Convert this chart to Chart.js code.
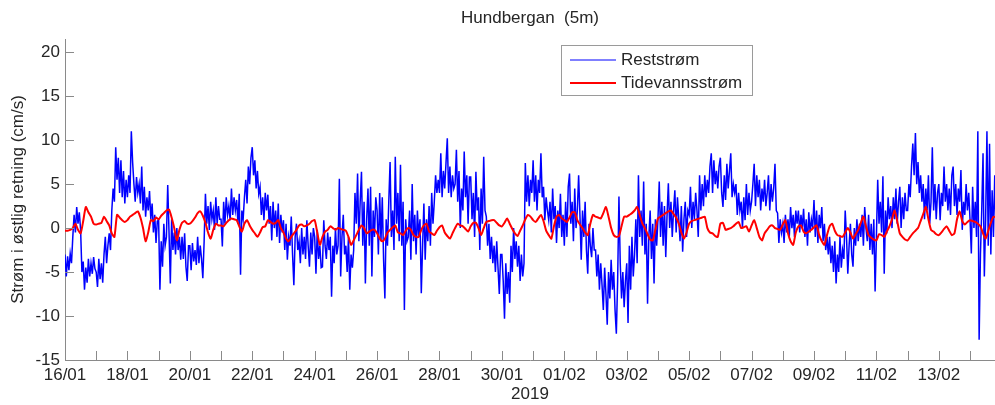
<!DOCTYPE html>
<html>
<head>
<meta charset="utf-8">
<script src="https://cdn.jsdelivr.net/npm/chart.js@4.4.1/dist/chart.umd.min.js"></script>
<style>
  html, body { margin: 0; padding: 0; background: #fff; }
  #wrap { width: 995px; height: 405px; }
</style>
</head>
<body>
<div id="wrap"><canvas id="chart" width="995" height="405"></canvas></div>
<script>
// Values. Reststrøm: hourly, one row per day from 16/01 00:00.
// Tidevannsstrøm: every 2 hours, one row per day.
const reststromStepDays = 1 / 24;
const tidevannStepDays = 1 / 12;

const reststrom = [
  -3.0, -5.5, -3.2, -4.8, -2.9, -4.0, -1.0, 1.5, -0.5, 2.4, 0.5, 1.8, -0.2, -5.0, -3.8, -7.0, -4.5, -6.2, -3.5, -5.5, -4.0, -5.2, -3.3, -4.6, // 16/01
  -5.0, -6.7, -3.5, -5.8, -4.0, -6.2, -3.0, -1.0, -4.0, -2.0, -0.6, -2.5, 2.0, 4.5, 3.0, 9.2, 5.5, 8.0, 4.0, 7.7, 3.5, 6.5, 2.8, 5.5,       // 17/01
  3.5, 6.0, 4.0, 11.0, 7.5, 5.0, 3.0, 5.8, 4.0, 5.0, 2.8, 7.0, 2.0, 4.7, 1.3, 3.5, 2.0, 4.2, 1.0, 2.8, -0.5, 1.5, -1.7, 0.8,              // 18/01
  0.9, -7.0, -1.5, -4.4, 0.5, -2.0, -1.0, 4.9, -0.5, -6.3, 1.0, -2.5, -0.5, -3.0, 0.0, -2.5, -1.0, -3.6, -1.0, -3.5, -0.6, -4.4, -6.0, -2.0, // 19/01
  -2.0, -4.8, -1.7, -3.8, -2.5, -4.2, -1.0, -4.0, -2.0, -3.5, -5.7, -1.5, 3.9, 0.5, 2.5, -0.2, 3.0, 1.0, 2.0, -0.2, 3.5, 0.5, 2.5, 1.0,    // 20/01
  1.0, -2.1, 3.0, 0.5, 3.5, 1.5, 2.5, 0.9, 4.5, 1.5, 3.5, 2.0, 3.2, 0.5, 3.9, -5.3, 2.0, 1.0, 3.5, 5.5, 2.8, 7.0, 5.0, 8.0,                // 21/01
  9.2, 6.0, 7.7, 4.5, 6.5, 3.9, 4.7, 1.5, 3.5, 0.9, 4.0, 2.0, 3.8, 0.5, 2.5, -1.4, 3.0, 0.0, 2.0, -1.0, 2.8, -1.7, 1.5, -0.5,              // 22/01
  0.9, -2.5, 0.5, -3.6, -1.0, -2.0, 1.3, -3.0, -6.5, -1.0, 0.5, -2.5, -1.5, -4.0, 0.0, -3.0, -1.0, -3.5, 0.9, -2.0, -4.4, -0.5, -3.0, 0.0, // 23/01
  -1.0, -5.2, -0.2, -3.5, -2.0, -4.5, -4.4, 0.9, -2.0, -3.5, -0.5, -2.5, -1.0, -7.8, -2.0, -4.0, 0.0, -3.0, -2.0, 5.6, -5.5, -1.0, 1.5, -3.0, // 24/01
  -2.0, -5.0, -1.0, -7.0, -3.0, -4.5, -2.5, 4.0, 0.5, 6.2, -1.5, 3.0, 6.4, -2.0, 3.0, -6.3, 1.0, 4.5, -2.0, 4.7, -5.5, 2.0, -1.0, 3.5,    // 25/01
  2.0, -3.0, 4.0, -1.5, 3.5, -3.6, -8.0, 1.0, -2.0, 3.0, 7.5, -1.0, 2.0, -2.5, 8.1, 0.5, 4.0, -1.5, 7.2, -2.0, 3.0, -9.3, 1.0, -1.5,      // 26/01
  -1.0, 2.0, -3.6, 5.0, -1.5, 1.5, -3.0, 2.0, -1.0, 1.0, -7.4, -2.0, 2.8, -3.6, 1.0, -1.5, 2.5, -2.0, 4.0, 0.5, 3.0, 6.0, 4.0, 5.5,      // 27/01
  4.0, 8.5, 3.5, 6.5, 4.5, 7.4, 10.2, 4.0, 7.0, 3.5, 6.0, 4.5, 5.0, 8.9, 3.0, 6.5, 0.0, 4.5, 2.0, 8.7, 3.5, 6.0, 0.5, 5.8,                 // 28/01
  5.8, 1.0, 4.0, -1.0, 6.4, 2.0, 3.5, -2.5, 4.5, 0.5, 8.1, 2.0, 1.3, -2.0, 0.5, -3.5, -1.0, -4.0, -2.0, -5.0, -1.5, -4.5, -7.5, -3.0,     // 29/01
  -3.0, -6.0, -10.3, -4.0, -7.5, -5.0, -8.5, -2.0, -5.0, 0.0, -3.5, -1.5, -4.4, -2.0, -6.0, -3.0, -5.5, -4.0, 7.4, 3.0, 6.0, 2.5, 5.5, 4.0, // 30/01
  7.7, 3.0, 6.0, 2.0, 5.5, 4.0, 8.5, 3.5, 4.7, 0.9, 3.5, 2.0, 0.9, 3.0, -0.5, 4.5, 1.0, 2.5, -1.7, 2.0, 0.0, 3.9, -1.0, 1.5,               // 31/01
  -2.0, 3.0, -1.0, 4.7, 6.2, 0.5, 3.0, -1.5, 4.5, 0.0, 2.0, 6.0, 1.5, -3.6, 2.0, -1.0, 3.0, -2.5, -5.2, 0.5, -2.0, -3.3, 0.0, -2.5,       // 01/02
  -2.5, -5.5, -3.0, -7.0, -4.0, -6.5, -9.3, -4.5, -7.5, -11.0, -5.0, -8.0, -3.6, -7.0, -5.0, -9.3, -12.0, -6.0, 3.6, -4.0, -8.0, -5.0, -9.0, -6.0, // 02/02
  -4.0, -10.8, -2.0, -7.0, -1.0, -5.5, -3.0, 1.0, -4.0, 6.0, -1.0, 2.0, -2.0, 5.3, -3.0, 0.5, -8.6, -1.0, 2.0, -3.5, 0.5, -6.3, 1.0, -2.0, // 03/02
  1.0, 5.3, -1.0, 3.0, -2.0, 2.5, -3.3, 1.5, 5.1, 0.0, 3.0, -1.0, 2.0, 4.3, -0.5, 3.5, 1.0, -1.5, 2.5, -2.7, 1.0, 3.0, -1.0, 2.0,         // 04/02
  1.5, 4.7, 0.0, 3.0, 1.0, 4.0, 2.0, -1.0, 6.0, 2.0, 5.0, 2.5, 6.0, 3.5, 5.5, 4.0, 7.0, 8.5, 4.0, 7.7, 5.0, 6.5, 4.5, 7.0,                 // 05/02
  8.0, 4.0, 2.4, 6.0, 3.2, 7.3, 4.5, 6.5, 8.5, 3.5, 5.0, 4.0, 5.0, 1.5, 4.0, 2.0, 3.0, 0.0, 3.5, 0.9, 5.0, 1.5, 4.0, 2.0,                  // 06/02
  3.0, 5.0, 7.3, 2.5, 6.0, 3.5, 5.5, 2.0, 4.5, 3.0, 5.5, 2.5, 4.0, 6.0, 2.0, 5.0, 3.0, 4.5, 7.3, 2.0, 1.7, -1.7, 1.0, -0.5,                // 07/02
  0.5, -1.7, 1.5, -0.5, 1.0, -1.0, 2.4, 0.0, 1.5, -1.0, 2.0, 0.5, 2.0, -0.5, 1.5, 0.0, 2.2, -1.0, 1.0, -2.0, 1.8, -0.5, 1.0, 0.0,          // 08/02
  3.2, -1.0, 2.0, -1.7, 1.5, 0.0, 2.4, -1.5, 0.5, -2.5, -1.0, -3.0, -1.0, -4.0, -2.0, -5.0, -1.5, -6.3, -3.0, -5.0, -1.0, -4.5, -2.5, -3.5, // 09/02
  2.0, -1.0, -5.2, -2.0, 0.5, -3.0, -4.4, 0.0, -2.0, 1.0, -1.5, 0.5, -1.0, 1.5, -2.0, 2.4, 0.0, -1.5, 1.5, -2.5, 0.5, -3.0, 1.0, -7.2,     // 10/02
  -1.0, 5.5, 0.5, 3.0, -0.5, 5.9, -5.2, 2.0, -0.6, 3.5, 1.0, 2.5, 0.0, 3.5, 1.0, 4.5, 0.5, 3.0, 4.7, 0.0, 3.5, 1.0, 4.0, 2.0,              // 11/02
  2.0, 5.0, 3.5, 7.0, 9.6, 6.0, 10.8, 5.0, 7.5, 4.0, 6.0, 3.0, 5.0, 1.0, 4.5, 2.0, 6.0, 0.5, 3.0, 9.2, 2.0, 5.0, 1.0, 4.0,                 // 12/02
  5.0, 0.9, 4.0, 2.5, 7.0, 3.0, 5.0, 2.0, 4.5, 1.5, 6.0, 7.0, 2.5, 5.0, 1.5, 4.5, 3.0, 6.6, -0.2, 3.0, 1.5, 5.0, 2.0, 4.0,                 // 13/02
  1.0, -2.9, 4.7, 0.0, 3.0, -1.0, 11.0, -12.7, -3.0, 2.0, 8.5, -5.5, 1.0, 11.0, -2.0, 9.6, -3.0, 4.3, -1.0, 6.0, 0.0, 3.0, -1.0, 2.0,     // 14/02
];

const tidevannsstrom = [
  -0.3, -0.3, -0.2, 0.0, 0.5, -0.2, -0.6, 0.8, 2.4, 1.8, 1.3, 0.5,
  0.4, 0.5, 0.6, 1.3, 0.8, 0.3, -0.6, -1.0, 1.5, 1.2, 0.9, 0.7,
  0.9, 1.3, 1.5, 1.7, 1.9, 1.2, 0.0, -1.5, -0.5, 0.9, 0.8, 1.2,
  1.0, 1.4, 1.7, 2.0, 2.1, 1.2, 0.0, -1.4, -0.2, 0.6, 0.8, 0.5,
  0.5, 0.8, 1.2, 1.7, 1.9, 1.4, 0.6, -0.5, -1.2, -0.2, 0.5, 0.3,
  0.3, 0.2, 0.6, 0.9, 1.1, 1.0, 0.9, 0.2, -0.4, 0.5, 0.9, 0.3,
  -0.2, -0.6, -1.0, -0.5, 0.1, 0.2, 0.9, 0.7, 0.5, 0.6, 0.9, 0.0,
  -0.5, -1.2, -1.5, -1.0, -0.6, -0.2, 0.3, 0.4, 0.2, 0.3, 0.5, 0.8,
  0.9, -0.5, -1.9, -1.0, -0.4, -0.2, 0.2, 0.0, -0.2, 0.0, -0.1, -0.2,
  -0.3, -1.0, -1.9, -1.4, -0.8, -0.2, 0.3, 0.0, -0.6, -0.4, -0.2, -0.2,
  -0.6, -1.2, -1.5, -1.2, -0.5, -0.2, 0.1, 0.3, -0.5, -0.6, -0.8, -0.3,
  0.0, -0.2, -0.8, -1.0, -1.0, -0.2, 0.3, 0.5, -0.4, -0.6, -0.8, -0.3,
  0.1, 0.3, -0.5, -0.9, -1.2, -0.6, 0.0, 0.5, 0.3, 0.2, -0.1, -0.4,
  0.2, 0.6, 0.6, 0.0, -0.8, 0.0, 0.7, 0.8, 0.9, 0.9, 0.6, 0.3,
  0.2, 0.6, 1.1, 0.5, -0.1, -0.6, -0.9, -0.3, 0.3, 1.0, 1.5, 1.3,
  0.9, 0.7, 1.1, 1.5, 0.8, -0.3, -0.8, -1.2, 0.2, 1.3, 1.5, 1.1,
  0.9, 0.7, 1.2, 1.8, 1.8, 0.9, 0.4, 0.0, -0.5, -0.8, 0.5, 1.5,
  1.3, 1.2, 1.1, 1.7, 2.4, 1.3, 0.0, -0.8, -1.0, -0.9, 0.2, 1.3,
  1.3, 1.5, 1.7, 2.0, 2.4, 1.5, 0.5, 0.0, -0.7, -1.3, -1.4, -0.2,
  1.1, 1.3, 1.5, 1.7, 1.9, 2.0, 1.6, 1.2, 0.5, -0.5, -1.2, -0.5,
  0.5, 0.8, 0.9, 1.0, 1.1, 1.2, 1.3, 0.0, -0.5, -0.6, -0.9, -1.0,
  0.5, 0.6, -0.2, -0.1, 0.0, 0.2, 0.5, 0.7, 0.0, 0.1, 0.2, -0.4,
  0.3, 0.9, 0.0, -1.0, -1.4, -0.6, -0.2, 0.2, 0.3, 0.0, -0.1, -0.2,
  0.4, 0.9, -0.6, -1.5, -1.9, -0.5, 0.2, 0.3, -0.4, -0.6, -0.4, -0.2,
  0.1, 0.3, -0.8, -1.5, -1.9, -0.8, 0.2, 0.5, -0.3, -0.8, -0.9, -1.0,
  -0.5, 0.0, -0.5, -1.2, -0.7, -0.2, 0.6, 1.3, 0.2, -0.8, -1.1, -1.3,
  -1.4, -0.7, -0.8, -1.0, -0.4, 0.2, 1.0, 2.0, 0.8, -0.6, -1.0, -1.3,
  -1.4, -1.0, -0.6, -0.3, 0.0, 0.8, 1.6, 2.4, 1.0, -0.2, -0.4, -0.7,
  -0.8, -0.5, -0.1, 0.2, -0.3, -0.8, -0.6, 1.0, 1.9, 0.8, 0.4, 0.7,
  0.9, 0.8, 0.7, 0.5, 0.2, -0.6, -1.2, -0.3, 0.6, 1.3, 1.2, 1.0,
];

// Labelled every second day, tick marks every day
const tickLabels = ['16/01', '18/01', '20/01', '22/01', '24/01', '26/01', '28/01', '30/01',
  '01/02', '03/02', '05/02', '07/02', '09/02', '11/02', '13/02'];
const dayTicks = Array.from({ length: 30 }, (_, i) => i);
const yTicks = [-15, -10, -5, 0, 5, 10, 15, 20];

const titleText = 'Hundbergan  (5m)';
const yTitle = 'Strøm i østlig retning (cm/s)';
const xTitle = '2019';

const fontFamily = '"Liberation Sans", Arial, sans-serif';
const textColor = '#262626';
const axisColor = '#8a8a8a';

function toPoints(values, step) {
  return values.map((v, i) => ({ x: i * step, y: v }));
}

// Draws the title, MATLAB-style inward tick marks and the boxed legend
const matlabLook = {
  id: 'matlabLook',
  afterDraw(chart) {
    const { ctx, chartArea, scales } = chart;
    ctx.save();
    ctx.strokeStyle = axisColor;
    ctx.lineWidth = 1;
    scales.x.ticks.forEach(t => {
      const px = Math.round(scales.x.getPixelForValue(t.value)) + 0.5;
      ctx.beginPath();
      ctx.moveTo(px, chartArea.bottom);
      ctx.lineTo(px, chartArea.bottom - 9);
      ctx.stroke();
    });
    scales.y.ticks.forEach(t => {
      const py = Math.round(scales.y.getPixelForValue(t.value)) + 0.5;
      ctx.beginPath();
      ctx.moveTo(chartArea.left, py);
      ctx.lineTo(chartArea.left + 9, py);
      ctx.stroke();
    });

    ctx.font = '17px ' + fontFamily;
    ctx.fillStyle = textColor;
    ctx.textAlign = 'center';
    ctx.textBaseline = 'middle';
    ctx.fillText(titleText, (chartArea.left + chartArea.right) / 2, 18);

    // legend box
    ctx.fillStyle = '#ffffff';
    ctx.fillRect(561, 45, 191, 50);
    ctx.strokeStyle = '#9a9a9a';
    ctx.lineWidth = 1;
    ctx.strokeRect(561.5, 45.5, 191, 50);
    ctx.textAlign = 'left';
    chart.data.datasets.forEach((ds, i) => {
      const y = 60 + i * 23;
      ctx.strokeStyle = ds.borderColor;
      ctx.lineWidth = i === 0 ? 1 : 2;
      ctx.beginPath();
      ctx.moveTo(570, y);
      ctx.lineTo(616, y);
      ctx.stroke();
      ctx.fillStyle = textColor;
      ctx.fillText(ds.label, 621, y);
    });
    ctx.restore();
  },
};

new Chart(document.getElementById('chart').getContext('2d'), {
  type: 'line',
  data: {
    datasets: [
      {
        label: 'Reststrøm',
        data: toPoints(reststrom, reststromStepDays),
        borderColor: '#0000ff',
        borderWidth: 1.5,
        pointRadius: 0,
        order: 1,
      },
      {
        label: 'Tidevannsstrøm',
        data: toPoints(tidevannsstrom, tidevannStepDays),
        borderColor: '#ff0000',
        borderWidth: 2,
        pointRadius: 0,
        tension: 0.2,
        order: 0,
      },
    ],
  },
  options: {
    responsive: false,
    animation: false,
    events: [],
    layout: { padding: { top: 39, right: 0, bottom: 0, left: 0 } },
    plugins: {
      legend: { display: false },
      tooltip: { enabled: false },
    },
    scales: {
      x: {
        type: 'linear',
        min: 0,
        max: 29.8,
        afterBuildTicks: scale => { scale.ticks = dayTicks.map(v => ({ value: v })); },
        afterFit: scale => { scale.height = 45; },
        grid: { display: false, drawTicks: false },
        border: { display: true, color: axisColor, width: 1 },
        ticks: {
          autoSkip: false,
          maxRotation: 0,
          padding: 5,
          color: textColor,
          font: { family: fontFamily, size: 17 },
          callback: v => (v % 2 === 0 ? tickLabels[v / 2] : ''),
        },
        title: {
          display: true,
          text: xTitle,
          color: textColor,
          font: { family: fontFamily, size: 17 },
          padding: { top: 0, bottom: 0 },
        },
      },
      y: {
        min: -15,
        max: 21.5,
        afterBuildTicks: scale => { scale.ticks = yTicks.map(v => ({ value: v })); },
        afterFit: scale => { scale.width = 65; },
        grid: { display: false, drawTicks: false },
        border: { display: true, color: axisColor, width: 1 },
        ticks: {
          padding: 5,
          color: textColor,
          font: { family: fontFamily, size: 17 },
        },
        title: {
          display: true,
          text: yTitle,
          color: textColor,
          font: { family: fontFamily, size: 17 },
          padding: { top: 8, bottom: 0 },
        },
      },
    },
  },
  plugins: [matlabLook],
});
</script>
</body>
</html>
